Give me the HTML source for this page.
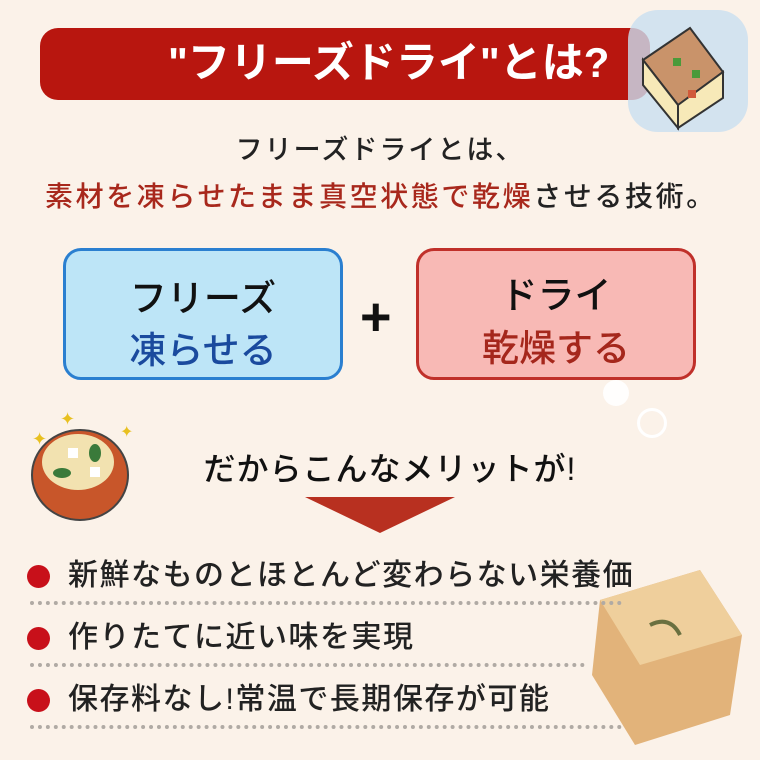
<!DOCTYPE html>
<html><head><meta charset="utf-8"><style>
*{margin:0;padding:0;box-sizing:border-box}
body{width:760px;height:760px;background:#fbf2e9;position:relative;overflow:hidden;font-family:"Liberation Sans","Noto Sans CJK JP",sans-serif;font-weight:500}
.a{position:absolute;white-space:nowrap}
.box{position:absolute;border-radius:18px;border:3px solid}
.dot{position:absolute;left:27px;width:23px;height:23px;border-radius:50%;background:#c8101a}
.line{position:absolute;left:30px;width:592px;border-top:4px dotted #b0aaa4}
.li{position:absolute;left:68px;font-size:30px;letter-spacing:1.5px;color:#222;line-height:1}
</style></head><body>
<div class="a" style="left:40px;top:28px;width:610px;height:72px;background:#b8160f;border-radius:18px"></div>
<div class="a" style="left:168px;top:37px;font-size:42px;color:#fff;line-height:52px;font-weight:bold">"フリーズドライ"とは?</div>
<div class="a" style="left:628px;top:10px;width:120px;height:122px;background:#c9dff0;border-radius:30px;opacity:.8"></div>
<svg class="a" style="left:628px;top:10px" width="120" height="122">
<polygon points="15,50 62,18 95,62 50,95" fill="#c9936a" stroke="#333" stroke-width="2"/>
<polygon points="15,50 50,95 50,118 15,75" fill="#f7e9b8" stroke="#333" stroke-width="2"/>
<polygon points="50,95 95,62 95,88 50,118" fill="#f7e9b8" stroke="#333" stroke-width="2"/>
<rect x="45" y="48" width="8" height="8" fill="#4a9a3a"/><rect x="64" y="60" width="8" height="8" fill="#4a9a3a"/><rect x="60" y="80" width="8" height="8" fill="#d05a3a"/>
</svg>
<div class="a" style="left:0;width:760px;text-align:center;top:128px;font-size:27px;letter-spacing:2px;color:#222">フリーズドライとは、</div>
<div class="a" style="left:45px;top:175px;font-size:28px;letter-spacing:2.6px;color:#222"><span style="color:#a8281c">素材を凍らせたまま真空状態で乾燥</span>させる技術。</div>
<div class="box" style="left:63px;top:248px;width:280px;height:132px;background:#bde5f7;border-color:#2a7fd0"></div>
<div class="a" style="left:63px;width:280px;text-align:center;top:268px;font-size:37px;color:#111">フリーズ</div>
<div class="a" style="left:63px;width:280px;text-align:center;top:320px;font-size:37px;color:#1a4a9e">凍らせる</div>
<div class="a" style="left:360px;top:290px;font-size:54px;color:#111;line-height:54px;font-weight:bold">+</div>
<div class="box" style="left:416px;top:248px;width:280px;height:132px;background:#f8b9b5;border-color:#c0302a"></div>
<div class="a" style="left:416px;width:280px;text-align:center;top:265px;font-size:37px;color:#111">ドライ</div>
<div class="a" style="left:416px;width:280px;text-align:center;top:318px;font-size:37px;color:#a5271c">乾燥する</div>
<svg class="a" style="left:20px;top:405px" width="120" height="120">
<ellipse cx="60" cy="70" rx="48" ry="45" fill="#c8562a" stroke="#444" stroke-width="2"/>
<ellipse cx="58" cy="57" rx="36" ry="28" fill="#f2e2b0"/>
<rect x="48" y="43" width="10" height="10" fill="#fff"/><rect x="70" y="62" width="10" height="10" fill="#fff"/>
<ellipse cx="42" cy="68" rx="9" ry="5" fill="#3a7a3a"/><ellipse cx="75" cy="48" rx="6" ry="9" fill="#3a7a3a"/>
<text x="12" y="40" fill="#e8c020" font-size="18">✦</text><text x="40" y="20" fill="#e8c020" font-size="18">✦</text><text x="100" y="32" fill="#e8c020" font-size="16">✦</text>
</svg>
<div class="a" style="left:0;width:780px;text-align:center;top:444px;font-size:32px;letter-spacing:1px;color:#111">だからこんなメリットが!</div>
<svg class="a" style="left:305px;top:497px" width="150" height="38"><polygon points="0,0 150,0 75,36" fill="#b83020"/></svg>
<svg class="a" style="left:580px;top:565px" width="170" height="185">
<polygon points="20,35 120,5 162,70 150,150 55,180 12,110" fill="#e2b37a"/>
<polygon points="20,35 120,5 162,70 60,100" fill="#efcf9c"/>
<path d="M70 60 q20 -10 30 10" stroke="#6a7040" stroke-width="4" fill="none"/>
</svg>
<div class="dot" style="top:565px"></div><div class="li" style="top:561px">新鮮なものとほとんど変わらない栄養価</div><div class="line" style="top:601px"></div>
<div class="dot" style="top:627px"></div><div class="li" style="top:623px">作りたてに近い味を実現</div><div class="line" style="top:663px;width:555px"></div>
<div class="dot" style="top:689px"></div><div class="li" style="top:685px">保存料なし!常温で長期保存が可能</div><div class="line" style="top:725px"></div>
<div class="a" style="left:603px;top:380px;width:26px;height:26px;border-radius:50%;background:#fff;opacity:.9"></div>
<div class="a" style="left:637px;top:408px;width:30px;height:30px;border-radius:50%;border:3px solid #fff"></div>
</body></html>
